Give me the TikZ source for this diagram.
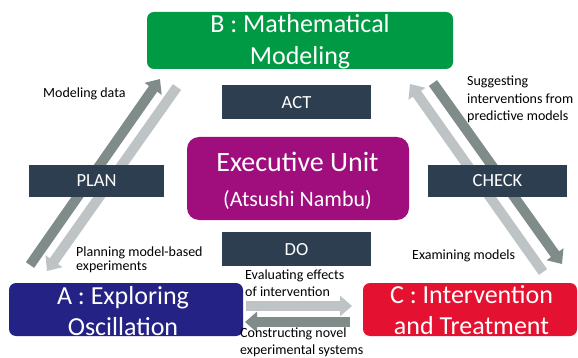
\documentclass[tikz,border=0pt]{standalone}
\usepackage{fontspec}
\setmainfont{Carlito}
\usetikzlibrary{arrows.meta}
\definecolor{bgreen}{RGB}{0,154,68}
\definecolor{epurple}{RGB}{160,14,126}
\definecolor{ablue}{RGB}{36,34,132}
\definecolor{cred}{RGB}{228,18,48}
\definecolor{slate}{RGB}{44,62,80}
\definecolor{adark}{RGB}{127,140,138}
\definecolor{alight}{RGB}{190,195,197}
\begin{document}
\begin{tikzpicture}[x=1pt,y=-1pt,
  fatarrow/.style={line width=10pt,-{Triangle[width=20pt,length=12pt]}},
  darkarrow/.style={fatarrow,draw=adark},
  lightarrow/.style={fatarrow,draw=alight},
  bigbox/.style={inner sep=0pt,rounded corners=7pt},
  tagbox/.style={fill=slate,inner sep=0pt,minimum height=33pt},
  bigtext/.style={anchor=base,inner sep=0pt,text=white,font=\fontsize{26}{30}\selectfont},
  tagtext/.style={anchor=base,inner sep=0pt,text=white,font=\fontsize{18.5}{22}\selectfont},
  small/.style={anchor=base west,inner sep=0pt,text=black,font=\fontsize{14}{17}\selectfont}]
\fill[white] (0,0) rectangle (578,358);
\useasboundingbox (0,0) rectangle (578,358);
% arrow end points
\coordinate (l1s) at (30,265);  \coordinate (l1e) at (160,79);
\coordinate (l2s) at (177,87);  \coordinate (l2e) at (47,271);
\coordinate (r1s) at (433,83);  \coordinate (r1e) at (562,264);
\coordinate (r2s) at (543,272); \coordinate (r2e) at (410,84);
\coordinate (h1s) at (246,306); \coordinate (h1e) at (352,306);
\coordinate (h2s) at (350,322); \coordinate (h2e) at (245,322);
% arrows
\draw[darkarrow] (l1s) -- (l1e);
\draw[lightarrow] (l2s) -- (l2e);
\draw[darkarrow] (r1s) -- (r1e);
\draw[lightarrow] (r2s) -- (r2e);
\draw[lightarrow] (h1s) -- (h1e);
\draw[darkarrow] (h2s) -- (h2e);
% boxes
\node[bigbox,fill=bgreen,minimum width=306pt,minimum height=57pt] (B) at (300,40.5) {};
\node[bigbox,fill=epurple,rounded corners=12pt,minimum width=222pt,minimum height=83pt] (E) at (298,178.5) {};
\node[bigbox,fill=ablue,minimum width=234pt,minimum height=53pt] (A) at (126,309.5) {};
\node[bigbox,fill=cred,minimum width=214pt,minimum height=53pt] (C) at (470,309.5) {};
\node[tagbox,minimum width=149pt,minimum height=34pt] (act) at (296.5,102) {};
\node[tagbox,minimum width=149pt,minimum height=34pt] (do) at (296.5,249) {};
\node[tagbox,minimum width=135pt,minimum height=32pt] (plan) at (96.5,181) {};
\node[tagbox,minimum width=139pt,minimum height=32pt] (check) at (497.5,181) {};
% box texts
\node[bigtext] (B1) at (300,33) {B : Mathematical};
\node[bigtext] (B2) at (300,65) {Modeling};
\node[bigtext,font=\fontsize{28}{32}\selectfont] (E1) at (297.5,172) {Executive Unit};
\node[bigtext,font=\fontsize{22}{26}\selectfont] (E2) at (297.5,207) {(Atsushi Nambu)};
\node[bigtext] (A1) at (123,304) {A : Exploring};
\node[bigtext] (A2) at (123,335) {Oscillation};
\node[bigtext] (C1) at (471.5,303) {C : Intervention};
\node[bigtext] (C2) at (471.5,334) {and Treatment};
\node[tagtext] (actt) at (296.5,109) {ACT};
\node[tagtext] (dot) at (296.5,255) {DO};
\node[tagtext] (plant) at (96.5,187) {PLAN};
\node[tagtext] (checkt) at (497.5,187) {CHECK};
% labels
\node[small] (m1) at (43,98) {Modeling data};
\node[small] (p1) at (76,256) {Planning model-based};
\node[small] (p2) at (76,270) {experiments};
\node[small] (s1) at (467,86) {Suggesting};
\node[small] (s2) at (467,103.5) {interventions from};
\node[small] (s3) at (467,121) {predictive models};
\node[small] (x1) at (412,259) {Examining models};
\node[small] (v1) at (245,279) {Evaluating effects};
\node[small] (v2) at (245,296.5) {of intervention};
\node[small] (k1) at (240,337) {Constructing novel};
\node[small] (k2) at (240,354) {experimental systems};
\end{tikzpicture}
\end{document}
